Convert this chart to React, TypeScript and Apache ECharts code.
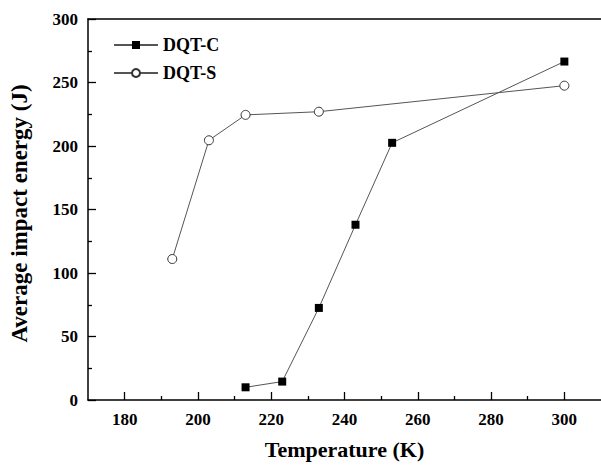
import React, { useEffect, useRef } from "react";
import * as echarts from "echarts";

const tempC = [213, 223, 233, 243, 253, 300];
const energyC = [10, 14.5, 72.5, 138, 202.5, 266.5];
const tempS = [193, 203, 213, 233, 300];
const energyS = [111, 204.5, 224.5, 227, 247.5];
const xMajorTicks = [180, 200, 220, 240, 260, 280, 300];
const xMinorTicks = [190, 210, 230, 250, 270, 290];
const yMajorTicks = [0, 50, 100, 150, 200, 250, 300];
const yMinorTicks = [25, 75, 125, 175, 225, 275];
const seriesNames = ["DQT-C", "DQT-S"];

const FONT = '"Liberation Serif", "Times New Roman", serif';
const tickStyle = { color: "#000", width: 1.3 };

export default function App() {
  const ref = useRef<HTMLDivElement>(null);
  useEffect(() => {
    if (!ref.current) return;
    const chart = echarts.init(ref.current, null, { renderer: "svg" });
    const dataC = tempC.map((t, i) => [t, energyC[i]]);
    const dataS = tempS.map((t, i) => [t, energyS[i]]);
    chart.setOption({
      animation: false,
      backgroundColor: "#fff",
      grid: { left: 87, top: 19, bottom: 64, right: -4, containLabel: false },
      legend: {
        orient: "vertical",
        left: 108,
        top: 31,
        itemWidth: 44,
        itemHeight: 10,
        itemGap: 10,
        data: seriesNames,
        textStyle: { fontFamily: FONT, fontWeight: "bold", fontSize: 18, color: "#000" },
      },
      xAxis: [
        {
          type: "value",
          min: 170,
          max: 310,
          position: "bottom",
          name: "Temperature (K)",
          nameLocation: "middle",
          nameGap: 38,
          nameTextStyle: { fontFamily: FONT, fontWeight: "bold", fontSize: 22, color: "#000" },
          axisLine: { show: true, lineStyle: { color: "#000", width: 1.5 } },
          axisTick: { show: true, inside: true, length: 8, customValues: xMajorTicks, lineStyle: tickStyle },
          axisLabel: { show: true, customValues: xMajorTicks, margin: 11, fontFamily: FONT, fontWeight: "bold", fontSize: 17, color: "#000" },
          splitLine: { show: false },
        },
        {
          type: "value",
          min: 170,
          max: 310,
          position: "bottom",
          axisLine: { show: false },
          axisTick: { show: true, inside: true, length: 4, customValues: xMinorTicks, lineStyle: tickStyle },
          axisLabel: { show: false },
          splitLine: { show: false },
        },
        {
          type: "value",
          min: 170,
          max: 310,
          position: "top",
          axisLine: { show: true, lineStyle: { color: "#000", width: 1.5 } },
          axisTick: { show: false },
          axisLabel: { show: false },
          splitLine: { show: false },
        },
      ],
      yAxis: [
        {
          type: "value",
          min: 0,
          max: 300,
          position: "left",
          name: "Average impact energy (J)",
          nameLocation: "middle",
          nameGap: 57,
          nameTextStyle: { fontFamily: FONT, fontWeight: "bold", fontSize: 23, color: "#000", padding: [0, 0, 0, -8] },
          axisLine: { show: true, lineStyle: { color: "#000", width: 1.5 } },
          axisTick: { show: true, inside: true, length: 8, customValues: yMajorTicks, lineStyle: tickStyle },
          axisLabel: { customValues: yMajorTicks, margin: 10, fontFamily: FONT, fontWeight: "bold", fontSize: 17, color: "#000" },
          splitLine: { show: false },
        },
        {
          type: "value",
          min: 0,
          max: 300,
          position: "left",
          axisLine: { show: false },
          axisTick: { show: true, inside: true, length: 4, customValues: yMinorTicks, lineStyle: tickStyle },
          axisLabel: { show: false },
          splitLine: { show: false },
        },
      ],
      series: [
        {
          name: seriesNames[0],
          type: "line",
          xAxisIndex: 0,
          yAxisIndex: 0,
          data: dataC,
          symbol: "rect",
          symbolSize: 8,
          lineStyle: { color: "#555", width: 1 },
          itemStyle: { color: "#000", borderColor: "#000", borderWidth: 0 },
        },
        {
          name: seriesNames[1],
          type: "line",
          xAxisIndex: 0,
          yAxisIndex: 0,
          data: dataS,
          symbol: "circle",
          symbolSize: 9,
          showAllSymbol: true,
          lineStyle: { color: "#555", width: 1 },
          itemStyle: { color: "#fff", borderColor: "#333", borderWidth: 1 },
        },
      ],
    });
    return () => chart.dispose();
  }, []);
  return (
    <div
      ref={ref}
      style={{ position: "absolute", left: 0, top: 0, width: 601, height: 465 }}
    />
  );
}
